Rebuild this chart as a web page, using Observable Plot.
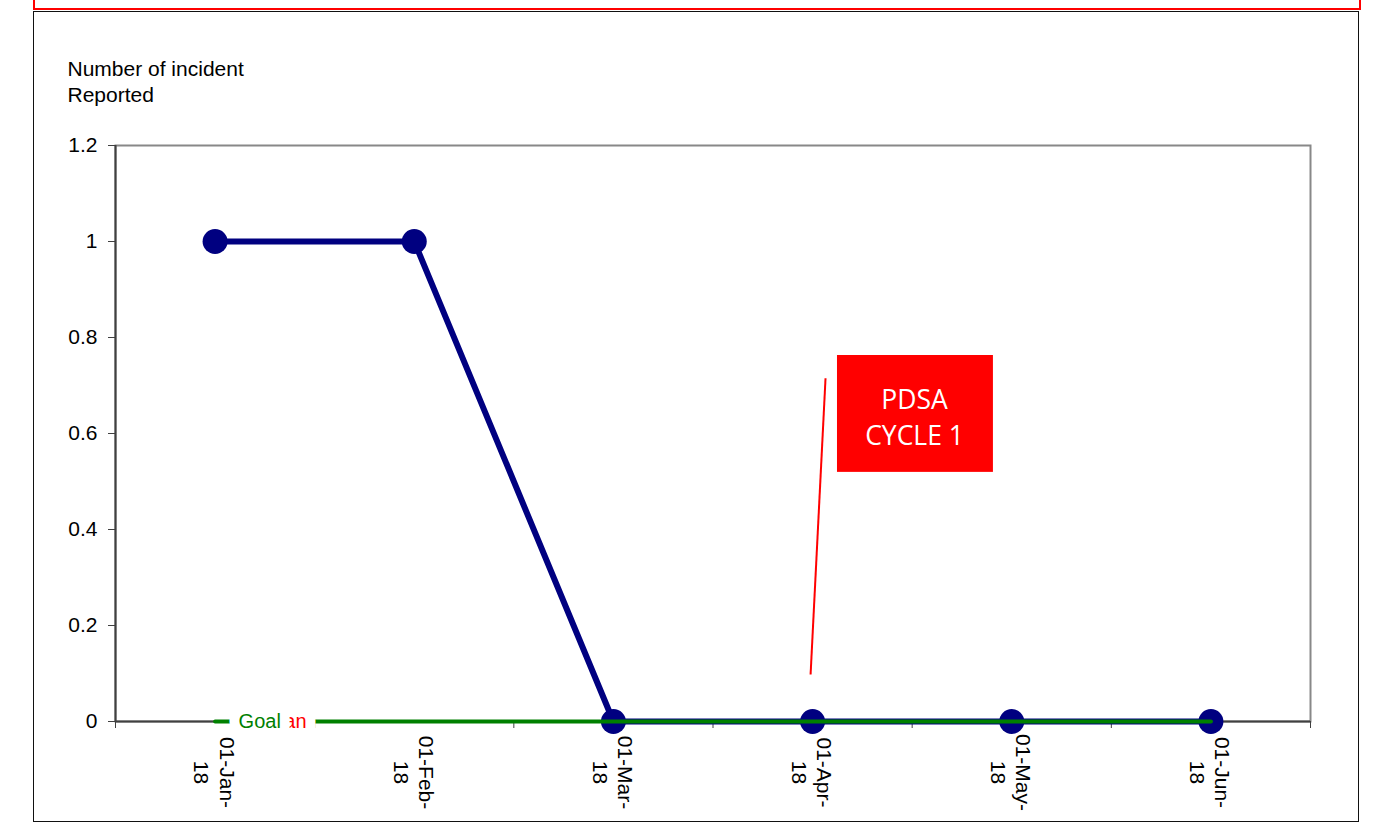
<!DOCTYPE html>
<html>
<head>
<meta charset="utf-8">
<script src="https://cdn.jsdelivr.net/npm/d3@7"></script>
<script src="https://cdn.jsdelivr.net/npm/@observablehq/plot@0.6"></script>
<style>
  html, body { margin: 0; padding: 0; background: #fff; }
  #wrap { position: relative; width: 1382px; height: 831px; overflow: hidden; font-family: "Liberation Sans", Arial, sans-serif; }
  #outer { position: absolute; left: 33px; top: 11px; width: 1324px; height: 809px; border: 1.5px solid #111; box-sizing: content-box; }
  #redbox { position: absolute; left: 33px; top: -12px; width: 1324px; height: 18px; border: 2px solid #ff0000; }
  #chart { position: absolute; left: 0; top: 0; }
</style>
</head>
<body>
<div id="wrap">
  <div id="redbox"></div>
  <div id="outer"></div>
  <div id="chart"></div>
</div>
<script>
// ---- data ----
const months = ["01-Jan-18", "01-Feb-18", "01-Mar-18", "01-Apr-18", "01-May-18", "01-Jun-18"];
const incidents = [1, 1, 0, 0, 0, 0];
const goal = [0, 0, 0, 0, 0, 0];
const yTicks = [0, 0.2, 0.4, 0.6, 0.8, 1, 1.2];
const yTitle = "Number of incident\nReported";
const goalLabel = "Goal";
const meanLabel = "Mean";
const pdsaText = "PDSA\nCYCLE 1";
// annotation anchors, in category-index units (x) and count units (y)
const goalLabelPos = [{x: 0.118, y: 0}];
const meanLabelPos = [{x: 0.459, y: 0}];
const pdsaBox = [{x1: 3.125, x2: 3.908, y1: 0.519, y2: 0.7625}];
const pdsaTextPos = [{x: 3.512, y: 0.6375}];
const pdsaPointer = [{x1: 3.065, y1: 0.715, x2: 2.99, y2: 0.098}];

const series = months.map((m, i) => ({i, month: m, value: incidents[i], goal: goal[i]}));
const boundaries = d3.range(-0.5, months.length, 1);

const chart = Plot.plot({
  width: 1382,
  height: 831,
  marginLeft: 115,
  marginRight: 72,
  marginTop: 145,
  marginBottom: 110,
  style: {fontFamily: "'Liberation Sans', Arial, sans-serif", fontSize: "21px", background: "transparent", overflow: "visible"},
  x: {domain: [-0.5, months.length - 0.5]},
  y: {domain: [0, 1.2]},
  marks: [
    Plot.frame({stroke: "#888", strokeWidth: 2}),
    Plot.ruleX([-0.5], {stroke: "#404040", strokeWidth: 2}),
    Plot.ruleY([0], {stroke: "#404040", strokeWidth: 2}),
    Plot.axisY({ticks: yTicks, tickSize: 7, tickPadding: 11, label: null, color: "#000", stroke: "#404040",
      tickFormat: d => String(+d.toFixed(1)), fontSize: 21}),
    Plot.axisX({ticks: boundaries, tickSize: 7, tickFormat: () => "", label: null, stroke: "#404040"}),
    Plot.text(series, {x: "i", y: 0, text: d => d.month.replace(/-(\d+)$/, "-\n$1"), rotate: 90,
      textAnchor: "middle", lineAnchor: "middle", lineHeight: 1.2, dy: 51, fill: "#000", fontSize: 21}),
    Plot.text([yTitle], {frameAnchor: "top-left", textAnchor: "start", lineAnchor: "top", lineHeight: 1.2,
      dx: -48, dy: -87, fill: "#000", fontSize: 21}),
    // incidents series
    Plot.line(series, {x: "i", y: "value", stroke: "#000080", strokeWidth: 6}),
    Plot.dot(series, {x: "i", y: "value", r: 12.5, fill: "#000080", stroke: "none"}),
    // goal line
    Plot.line(series, {x: "i", y: "goal", stroke: "#008000", strokeWidth: 4}),
    Plot.text(meanLabelPos, {x: "x", y: "y", text: () => meanLabel, textAnchor: "end", fill: "#ff0000",
      stroke: "white", strokeWidth: 20, fontSize: 20}),
    Plot.text(goalLabelPos, {x: "x", y: "y", text: () => goalLabel, textAnchor: "start", fill: "#008000",
      stroke: "white", strokeWidth: 20, fontSize: 20}),
    // PDSA annotation
    Plot.link(pdsaPointer, {x1: "x1", y1: "y1", x2: "x2", y2: "y2", stroke: "#ff0000", strokeWidth: 2}),
    Plot.rect(pdsaBox, {x1: "x1", x2: "x2", y1: "y1", y2: "y2", fill: "#ff0000"}),
    Plot.text(pdsaTextPos, {x: "x", y: "y", text: () => pdsaText, fill: "white", lineHeight: 1.38,
      fontFamily: "'Open Sans', sans-serif", fontSize: 26.5})
  ]
});
document.getElementById("chart").appendChild(chart);
</script>
</body>
</html>
